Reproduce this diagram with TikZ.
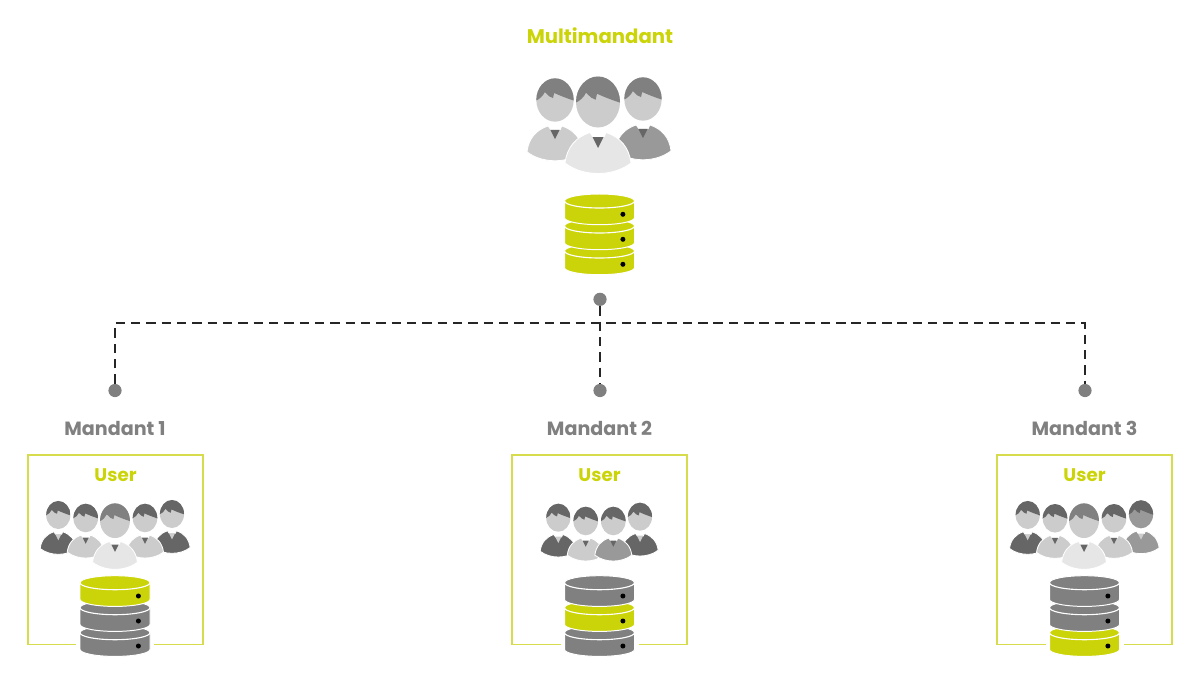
\documentclass[tikz,border=0pt]{standalone}
\usepackage{fontspec}
\usepackage{xcolor}
\setmainfont{Poppins}
\usetikzlibrary{positioning}
\definecolor{lime}{HTML}{CBD408}
\definecolor{limeline}{HTML}{D6DC4C}
\definecolor{dim}{HTML}{808080}
\definecolor{hairdark}{HTML}{666666}
\definecolor{skin}{HTML}{CCCCCC}
\definecolor{pale}{HTML}{E6E6E6}
\definecolor{mid}{HTML}{999999}

\begin{document}
\begin{tikzpicture}[
  x=0.025cm, y=0.025cm,
  every node/.style={inner sep=0pt},
  title/.style={font=\bfseries\fontsize{14}{16}\selectfont, text=lime},
  mandant/.style={font=\bfseries\fontsize{13.6}{16}\selectfont, text=dim},
  userlabel/.style={font=\bfseries\fontsize{13}{16}\selectfont, text=lime},
  userbox/.style={rectangle, draw=limeline, line width=1.1pt, minimum width=4.38cm,
                  minimum height=4.74cm},
  dot/.style={circle, fill=dim, minimum size=0.33cm},
  dashline/.style={black!85, line width=1.4pt, dash pattern=on 6.7pt off 4.2pt},
  pics/person/.style n args={4}{code={
    \path[fill=#3, draw=white, line width=0.6pt] (-33,-61)
      .. controls (-31,-45) and (-22,-35) .. (-8,-30.5) -- (-5,-35) -- (6,-35) -- (8,-30.5)
      .. controls (22,-35) and (31,-45) .. (33,-61)
      .. controls (15,-75) and (-15,-75) .. (-33,-61) -- cycle;
    \fill[#4] (-5.5,-35) -- (5.5,-35) -- (0,-46) -- cycle;
    \fill[#1] (0,0) ellipse [x radius=22, y radius=25.5];
    \begin{scope}
      \clip (0,0) ellipse [x radius=22, y radius=25.5];
      \fill[#2] (-23,-1) .. controls (-18,1) and (-14,5) .. (-12,9.3) -- (-6.7,4.3)
        -- (-2.3,2.3) -- (-1,8.3) .. controls (6,5) and (14,2) .. (23,-1)
        -- (23,26) -- (-23,26) -- cycle;
    \end{scope}
  }},
  pics/disc/.style={code={
    \path[fill=#1, draw=white, line width=0.7pt] (-35,0) -- (-35,-16.7)
      arc [start angle=180, end angle=360, x radius=35, y radius=7] -- (35,0)
      arc [start angle=0, end angle=180, x radius=35, y radius=7] -- cycle;
    \draw[white, line width=0.8pt] (-35,0)
      arc [start angle=180, end angle=360, x radius=35, y radius=7];
    \fill[black] (23.4,-13.3) circle [radius=2.5];
  }},
  pics/dbstack/.style n args={3}{code={
    \fill[white] (-39,-58) rectangle (39,-76);
    \pic at (0,-50) {disc=#3};
    \pic at (0,-25) {disc=#2};
    \pic at (0,0)   {disc=#1};
  }}
]
\useasboundingbox (0,0) rectangle (1200,-684);

% --- top: shared users and database ---
\node[title] (multi) at (600,-36) {Multimandant};
\pic[scale=0.85] at (555,-100) {person={skin}{dim}{skin}{hairdark}};
\pic[scale=0.85] at (643,-99)  {person={skin}{dim}{mid}{hairdark}};
\pic at (598,-102) {person={skin}{dim}{pale}{hairdark}};
\pic at (599.5,-201) {dbstack={lime}{lime}{lime}};

% --- dots and dashed links ---
\node[dot] (dtop) at (600,-299.3) {};
\node[dot] (d1) at (115,-390.5) {};
\node[dot] (d2) at (600,-390.5) {};
\node[dot] (d3) at (1085,-390.5) {};
\coordinate (bus) at (600,-323);
\draw[dashline] (dtop) -- (d2);
\draw[dashline] (d1) |- (bus) -| (d3);

% --- labels ---
\node[mandant] (m1) at (115,-428) {Mandant 1};
\node[mandant] (m2) at (599.5,-428) {Mandant 2};
\node[mandant] (m3) at (1084.5,-428) {Mandant 3};

% --- frames ---
\node[userbox] (box1) at (115.5,-549.8) {};
\node[userbox] (box2) at (599.5,-549.8) {};
\node[userbox] (box3) at (1084.5,-549.8) {};
\node[userlabel] (u1) at (115.5,-475) {User};
\node[userlabel] (u2) at (599.5,-475) {User};
\node[userlabel] (u3) at (1084.5,-475) {User};

% --- Mandant 1 ---
\pic[scale=0.55] at (58.3,-515) {person={skin}{hairdark}{hairdark}{skin}};
\pic[scale=0.55] at (172,-514)  {person={skin}{hairdark}{hairdark}{skin}};
\pic[scale=0.56] at (85.7,-518) {person={skin}{hairdark}{skin}{hairdark}};
\pic[scale=0.56] at (145,-518)  {person={skin}{hairdark}{skin}{hairdark}};
\pic[scale=0.68] at (115,-520.7) {person={skin}{dim}{pale}{hairdark}};
\pic at (115,-582.7) {dbstack={lime}{dim}{dim}};

% --- Mandant 2 ---
\pic[scale=0.55] at (558.3,-517.7) {person={skin}{hairdark}{hairdark}{skin}};
\pic[scale=0.55] at (640,-516.7)   {person={skin}{hairdark}{hairdark}{skin}};
\pic[scale=0.56] at (585.7,-521)   {person={skin}{hairdark}{skin}{hairdark}};
\pic[scale=0.56] at (613.3,-521)   {person={skin}{hairdark}{mid}{hairdark}};
\pic at (599.5,-582.7) {dbstack={dim}{lime}{dim}};

% --- Mandant 3 ---
\pic[scale=0.55] at (1027.7,-515) {person={skin}{hairdark}{hairdark}{skin}};
\pic[scale=0.55] at (1141,-514.3) {person={mid}{hairdark}{mid}{skin}};
\pic[scale=0.56] at (1055,-518.3) {person={skin}{hairdark}{skin}{hairdark}};
\pic[scale=0.56] at (1114,-518.3) {person={skin}{hairdark}{skin}{hairdark}};
\pic[scale=0.68] at (1084,-520.7) {person={skin}{dim}{pale}{hairdark}};
\pic at (1084.5,-582.7) {dbstack={dim}{dim}{lime}};
\end{tikzpicture}
\end{document}
